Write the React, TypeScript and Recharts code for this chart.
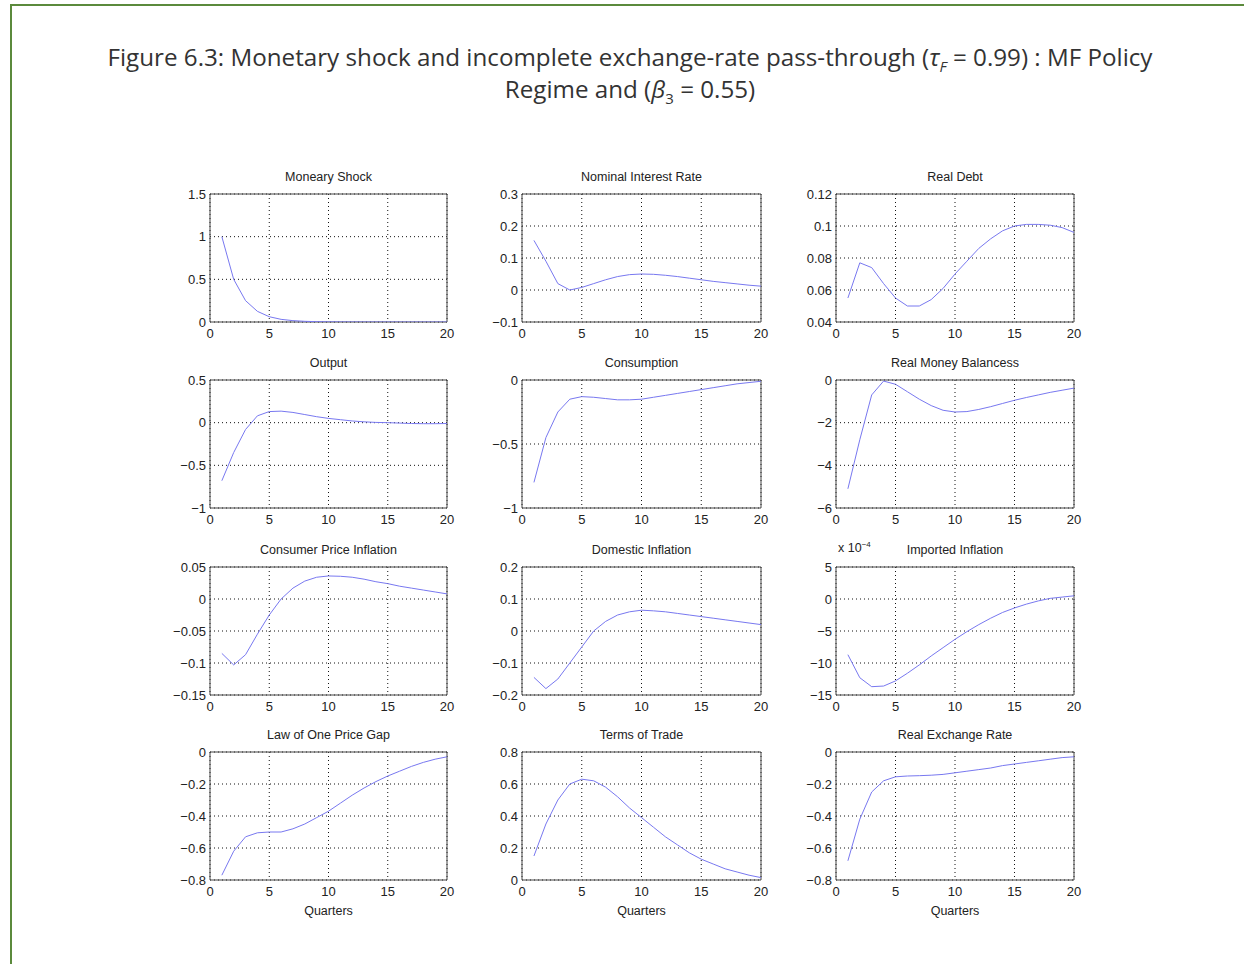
import React from "react";
import { LineChart, Line, XAxis, YAxis, CartesianGrid, ReferenceArea } from "recharts";

// quarters after the shock
const quarters = [1, 2, 3, 4, 5, 6, 7, 8, 9, 10, 11, 12, 13, 14, 15, 16, 17, 18, 19, 20];
const xTicks = [0, 5, 10, 15, 20];

const monetaryShock = [1.0, 0.5, 0.25, 0.125, 0.062, 0.031, 0.016, 0.008, 0.004, 0.002, 0.001, 0.0005, 0.0002, 0.0001, 0, 0, 0, 0, 0, 0];
const nominalRate = [0.155, 0.09, 0.02, 0.0, 0.008, 0.02, 0.032, 0.042, 0.048, 0.05, 0.049, 0.046, 0.042, 0.037, 0.032, 0.027, 0.023, 0.019, 0.015, 0.012];
const realDebt = [0.055, 0.077, 0.074, 0.064, 0.055, 0.05, 0.05, 0.054, 0.061, 0.07, 0.078, 0.086, 0.092, 0.097, 0.1, 0.101, 0.101, 0.1005, 0.099, 0.096];
const output = [-0.68, -0.35, -0.08, 0.08, 0.13, 0.135, 0.12, 0.095, 0.07, 0.05, 0.035, 0.02, 0.01, 0.003, 0.0, -0.005, -0.01, -0.012, -0.012, -0.01];
const consumption = [-0.8, -0.45, -0.25, -0.15, -0.13, -0.135, -0.145, -0.155, -0.155, -0.15, -0.135, -0.12, -0.105, -0.09, -0.075, -0.06, -0.045, -0.03, -0.02, -0.01];
const realMoney = [-5.1, -2.8, -0.7, -0.05, -0.2, -0.55, -0.9, -1.2, -1.42, -1.5, -1.48, -1.38, -1.25, -1.1, -0.95, -0.82, -0.7, -0.58, -0.48, -0.38];
const cpiInflation = [-0.085, -0.103, -0.087, -0.055, -0.025, 0.0, 0.017, 0.028, 0.034, 0.036, 0.0355, 0.034, 0.031, 0.027, 0.024, 0.02, 0.017, 0.014, 0.011, 0.008];
const domesticInflation = [-0.145, -0.18, -0.15, -0.1, -0.05, 0.0, 0.03, 0.05, 0.06, 0.065, 0.063, 0.06, 0.055, 0.05, 0.045, 0.04, 0.035, 0.03, 0.025, 0.02];
// in units of 1e-4
const importedInflation = [-8.7, -12.3, -13.7, -13.6, -12.8, -11.6, -10.3, -8.9, -7.6, -6.3, -5.1, -4.0, -3.0, -2.1, -1.4, -0.8, -0.3, 0.1, 0.3, 0.5];
const lopGap = [-0.77, -0.62, -0.53, -0.505, -0.5, -0.5, -0.48, -0.45, -0.41, -0.37, -0.32, -0.27, -0.225, -0.185, -0.15, -0.12, -0.09, -0.065, -0.045, -0.03];
const termsOfTrade = [0.15, 0.35, 0.5, 0.6, 0.63, 0.62, 0.58, 0.52, 0.45, 0.39, 0.33, 0.27, 0.22, 0.17, 0.13, 0.1, 0.07, 0.05, 0.03, 0.015];
const realExchange = [-0.68, -0.42, -0.25, -0.18, -0.155, -0.15, -0.148, -0.145, -0.14, -0.13, -0.12, -0.11, -0.1, -0.085, -0.075, -0.065, -0.055, -0.045, -0.035, -0.03];

type Panel = { title: string; values: number[]; yTicks: number[]; exp?: boolean };

const panels: Panel[] = [
  { title: "Moneary Shock", values: monetaryShock, yTicks: [0, 0.5, 1, 1.5] },
  { title: "Nominal Interest Rate", values: nominalRate, yTicks: [-0.1, 0, 0.1, 0.2, 0.3] },
  { title: "Real Debt", values: realDebt, yTicks: [0.04, 0.06, 0.08, 0.1, 0.12] },
  { title: "Output", values: output, yTicks: [-1, -0.5, 0, 0.5] },
  { title: "Consumption", values: consumption, yTicks: [-1, -0.5, 0] },
  { title: "Real Money Balancess", values: realMoney, yTicks: [-6, -4, -2, 0] },
  { title: "Consumer Price Inflation", values: cpiInflation, yTicks: [-0.15, -0.1, -0.05, 0, 0.05] },
  { title: "Domestic Inflation", values: domesticInflation, yTicks: [-0.2, -0.1, 0, 0.1, 0.2] },
  { title: "Imported Inflation", values: importedInflation, yTicks: [-15, -10, -5, 0, 5], exp: true },
  { title: "Law of One Price Gap", values: lopGap, yTicks: [-0.8, -0.6, -0.4, -0.2, 0] },
  { title: "Terms of Trade", values: termsOfTrade, yTicks: [0, 0.2, 0.4, 0.6, 0.8] },
  { title: "Real Exchange Rate", values: realExchange, yTicks: [-0.8, -0.6, -0.4, -0.2, 0] },
];

const colLeft = [210, 522, 836];
const colWidth = [237, 239, 238];
const rowTop = [194, 380, 567, 752];
const plotH = 128;

const font = "'Liberation Sans', Arial, sans-serif";
const tickStyle = { fontSize: 13, fill: "#222", fontFamily: font };
const fmt = (v: number) => String(v).replace("-", "\u2212");
const subStyle = { fontSize: 15, verticalAlign: "sub", lineHeight: 0 } as const;

function SubPlot({ p, idx }: { p: Panel; idx: number }) {
  const col = idx % 3;
  const row = Math.floor(idx / 3);
  const pw = colWidth[col];
  const left = colLeft[col];
  const top = rowTop[row];
  const last = row === 3;
  const data = quarters.map((q, i) => ({ q, v: p.values[i] }));
  const ymin = p.yTicks[0];
  const ymax = p.yTicks[p.yTicks.length - 1];
  return (
    <>
      <div
        style={{
          position: "absolute",
          left,
          width: pw,
          top: top - 24,
          textAlign: "center",
          fontFamily: font,
          fontSize: 12.5,
          color: "#222",
        }}
      >
        {p.title}
      </div>
      {p.exp && (
        <div style={{ position: "absolute", left: left + 2, top: top - 27, fontFamily: font, fontSize: 12.5, color: "#222" }}>
          x 10<sup style={{ fontSize: 8 }}>{"\u22124"}</sup>
        </div>
      )}
      <div style={{ position: "absolute", left: left - 50, top: top - 10 }}>
        <LineChart width={pw + 60} height={plotH + 10 + 45} data={data} margin={{ top: 10, right: 10, bottom: 0, left: 0 }}>
          <CartesianGrid stroke="#111" strokeDasharray="1 3" />
          <XAxis
            dataKey="q"
            type="number"
            domain={[0, 20]}
            ticks={xTicks}
            height={45}
            axisLine={false}
            tickLine={false}
            tickSize={4}
            tickMargin={3}
            tick={tickStyle}
            label={last ? { value: "Quarters", position: "insideBottom", offset: 10, style: { fontSize: 12.5, fill: "#222", fontFamily: font } } : undefined}
          />
          <YAxis
            type="number"
            domain={[ymin, ymax]}
            ticks={p.yTicks}
            allowDataOverflow
            width={50}
            axisLine={false}
            tickLine={false}
            tickSize={2}
            tickMargin={2}
            tick={tickStyle}
            tickFormatter={fmt}
          />
          <ReferenceArea x1={0} x2={20} y1={ymin} y2={ymax} fill="none" stroke="#444" strokeWidth={1} />
          <Line type="linear" dataKey="v" stroke="#7878f0" strokeWidth={1} dot={false} isAnimationActive={false} />
        </LineChart>
      </div>
    </>
  );
}

export default function App() {
  return (
    <div style={{ position: "absolute", left: 0, top: 0, width: 1244, height: 964, background: "#fff", overflow: "hidden" }}>
      <div style={{ position: "absolute", left: 11, top: 4, right: 0, height: 2, background: "#5b8a3c" }} />
      <div style={{ position: "absolute", left: 10, top: 4, width: 2, bottom: 0, background: "#5b8a3c" }} />
      <div
        style={{
          position: "absolute",
          left: 0,
          width: 1260,
          top: 41,
          textAlign: "center",
          fontFamily: "'Open Sans', sans-serif",
          fontSize: 24.2,
          lineHeight: "32px",
          color: "#333",
        }}
      >
        Figure 6.3: Monetary shock and incomplete exchange-rate pass-through (<i>&tau;<sub style={subStyle}>F</sub></i> = 0.99) : MF Policy
        <br />
        Regime and (<i>&beta;</i><sub style={subStyle}>3</sub> = 0.55)
      </div>
      {panels.map((p, i) => (
        <SubPlot key={p.title} p={p} idx={i} />
      ))}
    </div>
  );
}
